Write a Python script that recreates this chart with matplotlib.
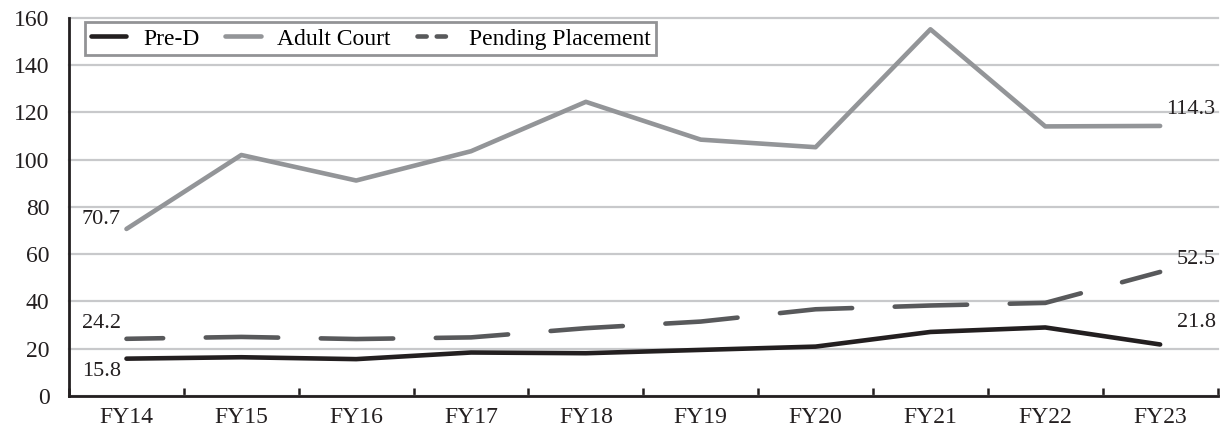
import matplotlib.pyplot as plt
from matplotlib.lines import Line2D
import numpy as np

# values
years = ['FY14', 'FY15', 'FY16', 'FY17', 'FY18', 'FY19', 'FY20', 'FY21', 'FY22', 'FY23']
pre_d = [15.8, 16.4, 15.6, 18.4, 18.1, 19.5, 20.9, 27.1, 29.0, 21.8]
adult_court = [70.7, 102.0, 91.2, 103.6, 124.5, 108.5, 105.3, 155.2, 114.1, 114.3]
pending = [24.2, 25.0, 24.1, 24.8, 28.7, 31.5, 36.7, 38.3, 39.4, 52.5]
yticks = [0, 20, 40, 60, 80, 100, 120, 140, 160]

plt.rcParams['font.family'] = ['Liberation Serif', 'DejaVu Serif']

c_pre, c_adult, c_pend = '#231f20', '#939598', '#58595b'
lw = 3.3

fig = plt.figure(figsize=(12.2, 4.34), dpi=100)
ax = fig.add_axes([0.0566, 0.0876, 0.9414, 0.871])

x = np.arange(len(years))

ax.plot(x, pre_d, color=c_pre, lw=lw, solid_capstyle='round', zorder=3)
ax.plot(x, adult_court, color=c_adult, lw=lw, solid_capstyle='round', zorder=3)
# long dashes, starting half way into a dash like the original
ax.plot(x, pending, color=c_pend, lw=lw, dash_capstyle='round', zorder=3,
        linestyle=(7.8, (15.8, 9.3)))

ax.set_xlim(-0.5, len(years) - 0.5)
ax.set_ylim(0, 160)
ax.set_yticks(yticks)
ax.yaxis.grid(True, color='#c8c9cb', lw=1.6)
ax.set_axisbelow(True)
for g in ax.get_ygridlines():
    g.set_clip_on(False)

ax.set_xticks(np.arange(-0.5, len(years)), labels=[''] * (len(years) + 1))
ax.set_xticks(x, labels=years, minor=True)
ax.tick_params(axis='x', which='major', direction='in', length=6, width=1.8, color=c_pre)
ax.tick_params(axis='x', which='minor', length=0, pad=8, labelsize=17, labelcolor=c_pre)
ax.tick_params(axis='y', length=0, pad=14, labelsize=17, labelcolor=c_pre)

for s in ['top', 'right']:
    ax.spines[s].set_visible(False)
for s in ['left', 'bottom']:
    ax.spines[s].set_linewidth(2)
    ax.spines[s].set_color(c_pre)

# end labels
lab = dict(fontsize=16, color=c_pre, textcoords='offset points', ha='right', va='center')
ax.annotate(f'{adult_court[0]}', (x[0], adult_court[0]), xytext=(-4, 7), **lab)
ax.annotate(f'{pending[0]}', (x[0], pending[0]), xytext=(-4, 11), **lab)
ax.annotate(f'{pre_d[0]}', (x[0], pre_d[0]), xytext=(-4, -9), **lab)
ax.annotate(f'{adult_court[-1]}', (x[-1], adult_court[-1]), xytext=(40, 12), **lab)
ax.annotate(f'{pending[-1]}', (x[-1], pending[-1]), xytext=(40, 9), **lab)
ax.annotate(f'{pre_d[-1]}', (x[-1], pre_d[-1]), xytext=(40, 16), **lab)

handles = [
    Line2D([], [], color=c_pre, lw=lw, solid_capstyle='round'),
    Line2D([], [], color=c_adult, lw=lw, solid_capstyle='round'),
    Line2D([], [], color=c_pend, lw=lw, dash_capstyle='round', linestyle=(0, (2.0, 2.2))),
]
leg = ax.legend(handles, ['Pre-D', 'Adult Court', 'Pending Placement'],
                loc='upper left', bbox_to_anchor=(0.014, 0.989), ncol=3, fontsize=17,
                frameon=True, fancybox=False, handlelength=1.5, handletextpad=0.7,
                columnspacing=1.1, borderpad=0.25, borderaxespad=0)
leg.get_frame().set_edgecolor('#77787b')
leg.get_frame().set_linewidth(2)

fig.savefig('out.png', dpi=100)
